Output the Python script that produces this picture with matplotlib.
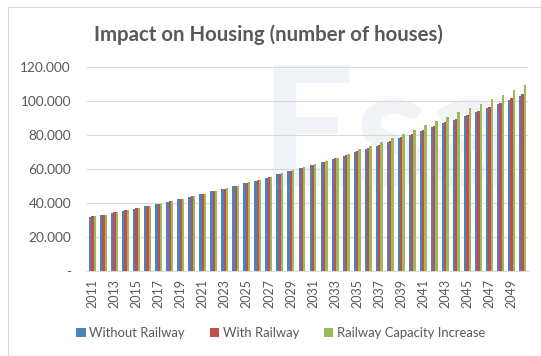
import numpy as np
import matplotlib.pyplot as plt
from matplotlib.ticker import FuncFormatter

plt.rcParams['font.family'] = ['Lato', 'DejaVu Sans']

# Housing projections (number of houses), 2011-2050
years = list(range(2011, 2051))
without_railway = [32000, 32900, 34300, 35500, 36700, 38000, 39400, 40800, 42200, 43700,
                   45100, 46700, 48200, 49800, 51600, 53100, 54900, 56700, 58600, 60400,
                   62200, 63900, 65900, 67600, 69800, 71800, 73700, 75900, 78000, 80000,
                   82200, 84300, 86700, 88800, 91200, 93500, 95900, 98000, 100600, 102900]
with_railway = [32100, 33000, 34400, 35600, 36800, 38100, 39500, 40900, 42300, 43900,
                45300, 46900, 48400, 50000, 51800, 53400, 55200, 57000, 58900, 60700,
                62500, 64300, 66300, 68000, 70200, 72200, 74200, 76400, 78500, 80500,
                82800, 84900, 87300, 89500, 91900, 94200, 96600, 98800, 101400, 103700]
capacity_increase = [32200, 33100, 34500, 35700, 36900, 38200, 39600, 41000, 42500, 44000,
                     45400, 47000, 48600, 50200, 52000, 53600, 55400, 57300, 59200, 60800,
                     62700, 64700, 66600, 69000, 71400, 73500, 75900, 78200, 80600, 82900,
                     85500, 88000, 90400, 93100, 95500, 98200, 100800, 103500, 106300, 109000]

series_names = ["Without Railway", "With Railway", "Railway Capacity Increase"]
colors = ["#4F81BD", "#C0504D", "#9BBB59"]
text_grey = "#595959"

fig = plt.figure(figsize=(5.41, 3.56), dpi=100)

# faint watermark behind the plot area
fig.text(0.48, 0.40, "Esa", fontsize=120, color="#f0f3f8", family="Lato",
         fontweight="bold", va="bottom", ha="left", zorder=-1)

# chart frame (left and top edges)
fig.add_artist(plt.Line2D([8/541, 8/541], [0, 1 - 7/356], color="#d9d9d9", lw=0.8))
fig.add_artist(plt.Line2D([8/541, 1], [1 - 7/356, 1 - 7/356], color="#d9d9d9", lw=0.8))

ax = fig.add_axes([87/541, 85/356, 441/541, (271 - 66.7)/356])
ax.patch.set_alpha(0)

x = np.arange(len(years))
w = 0.21
for i, (vals, name) in enumerate(zip([without_railway, with_railway, capacity_increase], series_names)):
    ax.bar(x + (i - 1) * w, vals, width=w, color=colors[i], label=name, zorder=3)

ax.set_xlim(-0.5, len(years) - 0.5)
ax.set_ylim(0, 120000)
ax.set_yticks(np.arange(0, 120001, 20000))
ax.yaxis.set_major_formatter(FuncFormatter(
    lambda v, _: "-" if v == 0 else f"{v:,.0f}".replace(",", ".")))
ax.grid(axis="y", color="#d9d9d9", linewidth=0.8, zorder=0)

ax.set_xticks(x[::2])
ax.set_xticklabels([str(y) for y in years[::2]], rotation=90)
ax.tick_params(axis="both", length=0, colors=text_grey)
ax.tick_params(axis="y", pad=11.5, labelsize=9.8)
ax.tick_params(axis="x", pad=6, labelsize=9)

for side in ["top", "right", "left"]:
    ax.spines[side].set_visible(False)
ax.spines["bottom"].set_color("#d9d9d9")
ax.spines["bottom"].set_linewidth(0.8)

fig.text(268/541, 1 - 35/356, "Impact on Housing (number of houses)", fontsize=14.7,
         fontweight="bold", color=text_grey, ha="center", va="center")

leg = fig.legend(loc="center", bbox_to_anchor=(281/541, 1 - 333/356), ncol=3,
                 frameon=False, fontsize=9.4, handlelength=0.7, handleheight=0.7,
                 handletextpad=0.3, columnspacing=1.9)
for t in leg.get_texts():
    t.set_color(text_grey)

fig.savefig("out.png", dpi=100)
